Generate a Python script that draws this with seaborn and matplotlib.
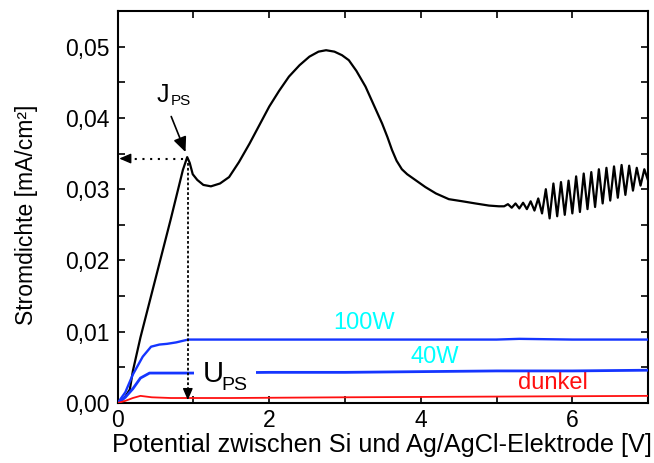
import matplotlib
matplotlib.use("Agg")
import matplotlib.pyplot as plt
from matplotlib.patches import Rectangle
import seaborn as sns

# ---------------- data ----------------
ps_x = [0.00, 0.05, 0.10, 0.16, 0.20, 0.30, 0.50, 0.70, 0.86, 0.917, 0.95, 0.99,
        1.05, 1.13, 1.23, 1.35, 1.47, 1.60, 1.74, 1.87, 2.00, 2.13, 2.26, 2.40,
        2.53, 2.65, 2.75, 2.86, 2.96, 3.05, 3.15, 3.27, 3.38, 3.49, 3.56, 3.62,
        3.68, 3.75, 3.82, 3.90, 4.06, 4.20, 4.37, 4.55, 4.72, 4.90, 5.03,
        5.10, 5.15, 5.20, 5.25, 5.30, 5.35, 5.40, 5.45, 5.50, 5.55, 5.60, 5.65,
        5.70, 5.75, 5.80, 5.85, 5.90, 5.95, 6.00, 6.05, 6.10, 6.15, 6.20, 6.25,
        6.30, 6.35, 6.40, 6.45, 6.50, 6.55, 6.60, 6.65, 6.70, 6.75, 6.80, 6.85,
        6.90, 6.95, 7.00]
ps_y = [0.0000, 0.0003, 0.0009, 0.0019, 0.0045, 0.0092, 0.0175, 0.0258, 0.0327, 0.0345, 0.0337, 0.0321,
        0.0313, 0.0306, 0.0304, 0.0308, 0.0317, 0.0338, 0.0364, 0.0390, 0.0416, 0.0438, 0.0458, 0.0474,
        0.0486, 0.0493, 0.0495, 0.0493, 0.0488, 0.0481, 0.0466, 0.0444, 0.0418, 0.0392, 0.0373, 0.0355,
        0.0340, 0.0328, 0.0321, 0.0315, 0.0303, 0.0294, 0.0286, 0.0283, 0.0280, 0.0277, 0.0276,
        0.0276, 0.0279, 0.0274, 0.0280, 0.0273, 0.0281, 0.0272, 0.0283, 0.0270, 0.0287, 0.0266, 0.0300,
        0.0259, 0.0308, 0.0262, 0.0310, 0.0264, 0.0312, 0.0266, 0.0318, 0.0268, 0.0322, 0.0272, 0.0324,
        0.0275, 0.0328, 0.0280, 0.0330, 0.0284, 0.0332, 0.0288, 0.0334, 0.0292, 0.0333, 0.0298, 0.0330,
        0.0305, 0.0328, 0.0312]

w100_x = [0.00, 0.10, 0.20, 0.33, 0.44, 0.55, 0.65, 0.77, 0.93, 1.20, 2.0, 3.0, 4.0, 5.0, 5.3, 6.0, 7.0]
w100_y = [0.0000, 0.0015, 0.0040, 0.0065, 0.0079, 0.0082, 0.0083, 0.0085, 0.0089, 0.0089,
          0.0089, 0.0089, 0.0089, 0.0089, 0.0090, 0.0089, 0.0089]

w40_x = [0.00, 0.10, 0.20, 0.30, 0.42, 0.60, 1.00, 2.0, 3.0, 4.0, 5.0, 6.0, 7.0]
w40_y = [0.0000, 0.0008, 0.0020, 0.0035, 0.0042, 0.0042, 0.0042, 0.0043, 0.0043, 0.0044,
         0.0045, 0.0045, 0.0046]

dark_x = [0.00, 0.10, 0.20, 0.30, 0.45, 0.70, 1.5, 3.0, 5.0, 7.0]
dark_y = [0.0000, 0.0003, 0.0007, 0.0010, 0.0008, 0.0007, 0.0007, 0.0008, 0.0009, 0.0010]

x_ticks = [0, 2, 4, 6]
x_tick_labels = ["0", "2", "4", "6"]
y_ticks = [0.00, 0.01, 0.02, 0.03, 0.04, 0.05]
y_tick_labels = ["0,00", "0,01", "0,02", "0,03", "0,04", "0,05"]

x_label = "Potential zwischen Si und Ag/AgCl-Elektrode [V]"
y_label = "Stromdichte [mA/cm²]"
series_labels = ["100W", "40W", "dunkel"]

# ---------------- style ----------------
sns.set_style("ticks")
plt.rcParams['font.family'] = ['Liberation Sans', 'DejaVu Sans']
plt.rcParams['text.color'] = 'black'
plt.rcParams['axes.labelcolor'] = 'black'
plt.rcParams['xtick.color'] = 'black'
plt.rcParams['ytick.color'] = 'black'

fig = plt.figure(figsize=(6.54, 4.63), dpi=100)
ax = fig.add_axes([0.180, 0.1296, 0.811, 0.8466])

sns.lineplot(x=ps_x, y=ps_y, ax=ax, color="black", lw=1.6, estimator=None, sort=False, zorder=3)
sns.lineplot(x=w100_x, y=w100_y, ax=ax, color="#1535ff", lw=1.7, estimator=None, sort=False, zorder=4)
sns.lineplot(x=w40_x, y=w40_y, ax=ax, color="#1535ff", lw=2.0, estimator=None, sort=False, zorder=4)
sns.lineplot(x=dark_x, y=dark_y, ax=ax, color="#ff1010", lw=1.3, estimator=None, sort=False, zorder=5)

ax.set_xlim(0, 7)
ax.set_ylim(0, 0.055)
ax.set_xticks(x_ticks)
ax.set_xticklabels(x_tick_labels)
ax.set_yticks(y_ticks)
ax.set_yticklabels(y_tick_labels)
ax.xaxis.set_minor_locator(matplotlib.ticker.MultipleLocator(1))
ax.yaxis.set_minor_locator(matplotlib.ticker.MultipleLocator(0.005))
ax.tick_params(which="both", direction="in", top=True, right=True, length=5, width=1.2, color="black")
ax.tick_params(axis="both", which="major", labelsize=16.5)
ax.tick_params(axis="y", pad=6)
ax.tick_params(axis="x", pad=4)
for s in ax.spines.values():
    s.set_linewidth(1.5)
    s.set_color("black")

ax.set_xlabel(x_label, fontsize=18.2)
ax.set_ylabel(y_label, fontsize=16.5)
ax.xaxis.set_label_coords(0.498, -0.077)
ax.yaxis.set_label_coords(-0.151, 0.48)

# series labels
ax.text(3.25, 0.0112, series_labels[0], color="#00ffff", fontsize=17, ha="center", va="center")
ax.text(4.18, 0.0064, series_labels[1], color="#00ffff", fontsize=17, ha="center", va="center")
ax.text(5.74, 0.0028, series_labels[2], color="#ff1010", fontsize=17, ha="center", va="center")

# J_PS annotation
ax.text(0.515, 0.0422, "J", fontsize=18, ha="left", va="baseline")
ax.text(0.70, 0.0418, "PS", fontsize=11, ha="left", va="baseline")
ax.annotate("", xy=(0.895, 0.0352), xytext=(0.706, 0.0402),
            arrowprops=dict(arrowstyle="-|>,head_length=0.9,head_width=0.4", color="black",
                            lw=1.2, shrinkA=0, shrinkB=0), zorder=6)

# dotted horizontal arrow to the y axis
ax.plot([0.12, 0.88], [0.0343, 0.0343], color="black", lw=1.5, linestyle=(0, (1, 2.7)), zorder=6)
ax.annotate("", xy=(0.02, 0.0343), xytext=(0.15, 0.0343),
            arrowprops=dict(arrowstyle="-|>,head_length=0.7,head_width=0.3", color="black",
                            lw=1.0, shrinkA=0, shrinkB=0), zorder=6)

# dashed vertical arrow to the x axis
ax.plot([0.925, 0.925], [0.0337, 0.0016], color="black", lw=1.3, linestyle=(0, (1.5, 1.2)), zorder=6)
ax.annotate("", xy=(0.925, 0.0004), xytext=(0.925, 0.0020),
            arrowprops=dict(arrowstyle="-|>,head_length=0.7,head_width=0.3", color="black",
                            lw=1.0, shrinkA=0, shrinkB=0), zorder=6)

# white gap in the 40W line behind the U_PS label
ax.add_patch(Rectangle((1.01, 0.0033), 0.81, 0.0018, facecolor="white", edgecolor="none", zorder=4.5))
ax.text(1.118, 0.00295, "U", fontsize=21, ha="left", va="baseline", zorder=7)
ax.text(1.368, 0.00182, "PS", fontsize=14, ha="left", va="baseline", zorder=7)

fig.savefig("out.png", dpi=100)
